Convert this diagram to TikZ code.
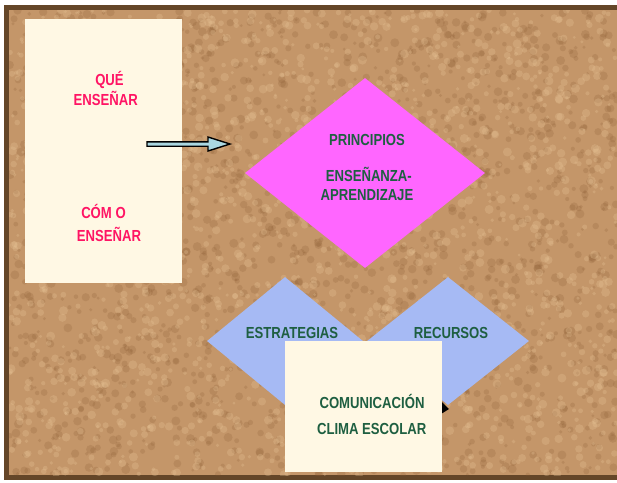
\documentclass[tikz,border=0pt]{standalone}
\usepackage{fontspec}
\setmainfont{Liberation Sans}[FakeStretch=0.82]
\usepackage{tikz}
\usetikzlibrary{shapes.geometric, calc}

\definecolor{framebrown}{RGB}{100,70,40}
\definecolor{cork}{RGB}{196,150,105}
\definecolor{corkdark}{RGB}{140,92,52}
\definecolor{corklight}{RGB}{232,196,150}
\definecolor{cream}{RGB}{255,248,228}
\definecolor{pinkdiam}{RGB}{255,102,255}
\definecolor{bluediam}{RGB}{166,186,244}
\definecolor{darkgreen}{RGB}{30,95,65}
\definecolor{redtext}{RGB}{255,20,100}
\definecolor{arrowblue}{RGB}{170,215,225}

\tikzset{
    card/.style={fill=cream, draw=none, inner sep=0pt},
    diam/.style={diamond, draw=none, inner sep=0pt},
    redlabel/.style={anchor=base, text=redtext, font=\fontsize{16}{18}\selectfont\bfseries, inner sep=0pt},
    greenlabel/.style={anchor=base, text=darkgreen, font=\fontsize{16}{18}\selectfont\bfseries, inner sep=0pt}
}

\begin{document}
\begin{tikzpicture}[x=1pt, y=-1pt]
        \useasboundingbox (0,0) rectangle (617,482);
        % cork board
        \fill[framebrown] (4,5) rectangle (630,480);
        \fill[cork] (9,10) rectangle (630,475);
        \begin{scope}
            \clip (9,10) rectangle (617,475);
            \pgfmathsetseed{17}
            \foreach \i in {1,...,1800} {
                \fill[corkdark, opacity=0.22] ({9+608*rnd},{10+465*rnd}) circle ({1.5+3*rnd});
            }
            \foreach \i in {1,...,1800} {
                \fill[corklight, opacity=0.3] ({9+608*rnd},{10+465*rnd}) circle ({1.5+3*rnd});
            }
        \end{scope}

        % left card
        \node[card, minimum width=157, minimum height=264] (whatcard) at (103.5,151) {};
        \node[redlabel] (que) at (109.5,85.5) {QUÉ};
        \node[redlabel] (ensenar) at (105.8,105.7) {ENSEÑAR};
        \node[redlabel] (como) at (103.5,218) {CÓM O};
        \node[redlabel] (ensenarb) at (109,241.7) {ENSEÑAR};

        % arrow
        \coordinate (arrstart) at (147,144);
        \coordinate (arrtip) at (230,144);
        \draw[fill=arrowblue, line width=1.4pt, line join=miter]
            ($(arrstart)+(0,-2.2)$) -- (208,141.8) -- (208,137) -- (arrtip)
            -- (208,151) -- (208,146.2) -- ($(arrstart)+(0,2.2)$) -- cycle;

        % principles
        \node[diam, fill=pinkdiam, minimum width=240, minimum height=190] (principios) at (365,173) {};
        \node[greenlabel] (princ) at (367,145.7) {PRINCIPIOS};
        \node[greenlabel] (ensenanza) at (368.8,181.7) {ENSEÑANZA-};
        \node[greenlabel] (aprend) at (367,200) {APRENDIZAJE};

        % strategies and resources
        \node[diam, fill=bluediam, minimum width=156, minimum height=128] (estrat) at (285,341) {};
        \node[diam, fill=bluediam, minimum width=162, minimum height=128] (recur) at (448,341) {};
        \fill[black] (441,401) -- (449,409) -- (441,414) -- cycle;
        \node[greenlabel] (estratlab) at (292,338.3) {ESTRATEGIAS};
        \node[greenlabel] (recurlab) at (451,338.3) {RECURSOS};

        % bottom card
        \node[card, minimum width=157, minimum height=131] (comcard) at (363.5,406.5) {};
        \node[greenlabel] (comunic) at (372,408.3) {COMUNICACIÓN};
        \node[greenlabel] (clima) at (371.7,434.3) {CLIMA ESCOLAR};
\end{tikzpicture}
\end{document}
